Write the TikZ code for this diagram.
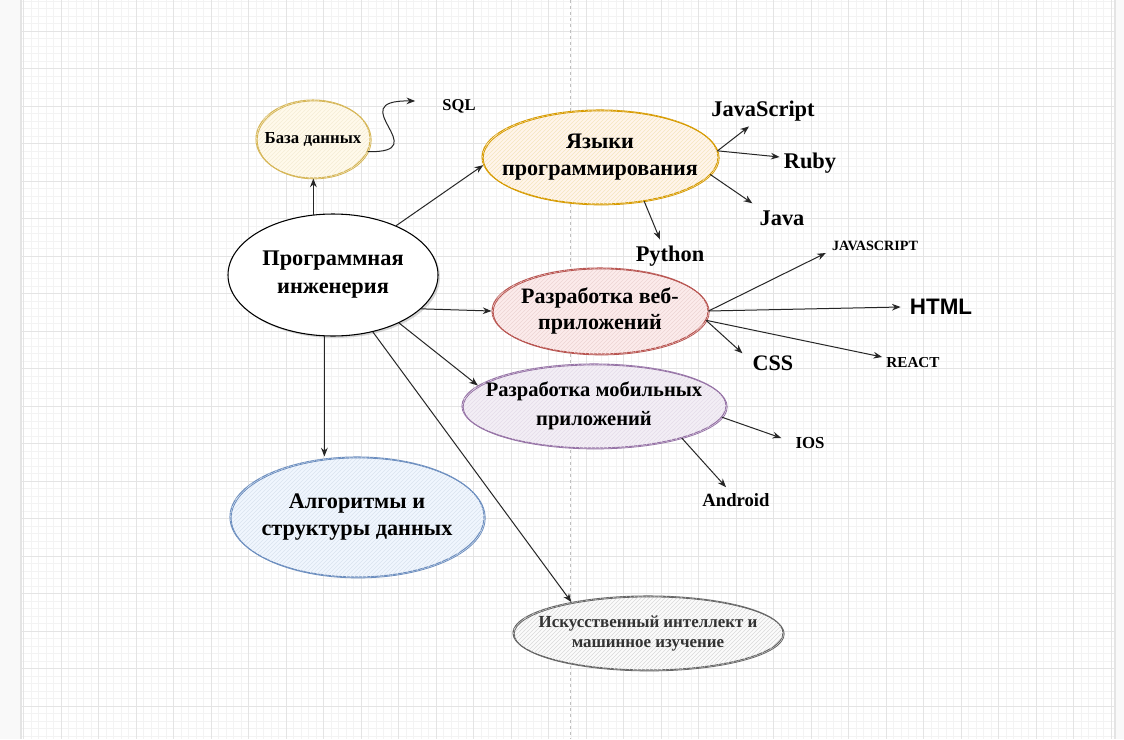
\documentclass[tikz,border=0pt]{standalone}
\usepackage{fontspec}
\setmainfont{Liberation Serif}
\newfontfamily\arialfont{Liberation Sans}
\usetikzlibrary{arrows.meta,shapes.geometric,patterns,shadows}

\definecolor{ystroke}{HTML}{D6B656}
\definecolor{yfill}{HTML}{FFF2CC}
\definecolor{ostroke}{HTML}{D79B00}
\definecolor{ofill}{HTML}{FFE6CC}
\definecolor{rstroke}{HTML}{B85450}
\definecolor{rfill}{HTML}{F8CECC}
\definecolor{pstroke}{HTML}{9673A6}
\definecolor{pfill}{HTML}{E1D5E7}
\definecolor{bstroke}{HTML}{6C8EBF}
\definecolor{bfill}{HTML}{DAE8FC}
\definecolor{gstroke}{HTML}{666666}
\definecolor{gfill}{HTML}{F5F5F5}
\definecolor{gtext}{HTML}{333333}
\definecolor{gridminor}{HTML}{F3F3F3}
\definecolor{gridmajor}{HTML}{E4E4E4}
\definecolor{gridstrip}{HTML}{F9F9F9}

\tikzset{
  blob/.style n args={4}{ellipse, draw=#1, line width=0.8pt, fill=#2!40,
    minimum width=#3*0.75pt, minimum height=#4*0.75pt, inner xsep=-30pt, inner ysep=-8pt, align=center,
    postaction={pattern=north east lines, pattern color=#1!25},
    postaction={draw=#1, line width=0.6pt, transform canvas={shift={(0.9pt,-0.7pt)}}}},
  leaf/.style={inner sep=0pt, font=\bfseries\fontsize{#1}{#1}\selectfont},
  conn/.style={black!85, line width=0.75pt, >={Stealth[length=6.5pt,width=5pt]}},
}

\begin{document}
\begin{tikzpicture}[x=0.75pt, y=-0.75pt]
  \useasboundingbox (0,0) rectangle (1124,739);
  % canvas grid
  \fill[white] (0,0) rectangle (1124,739);
  \foreach \gx in {23.5,31,...,1115} \draw[gridminor, line width=0.5pt] (\gx,0) -- (\gx,739);
  \foreach \gy in {1,8.5,...,739} \draw[gridminor, line width=0.5pt] (21,\gy) -- (1115,\gy);
  \foreach \gx in {23.5,61,...,1115} \draw[gridmajor, line width=0.6pt] (\gx,0) -- (\gx,739);
  \foreach \gy in {31,68.5,...,739} \draw[gridmajor, line width=0.6pt] (21,\gy) -- (1115,\gy);
  \fill[gridstrip] (0,0) rectangle (21,739);
  \fill[gridstrip] (1115,0) rectangle (1124,739);
  \draw[gridmajor, line width=1pt] (21,0) -- (21,739) (1115,0) -- (1115,739);
  \draw[black!25, line width=0.6pt, dash pattern=on 2.5pt off 2pt] (570,0) -- (570,739);

  % topics
  \node[ellipse, draw, line width=0.8pt, fill=white, minimum width=210*0.75pt, minimum height=122*0.75pt,
    inner xsep=-10pt, inner ysep=-4pt, align=center, drop shadow={shadow xshift=1.5pt, shadow yshift=-1.5pt, opacity=0.3},
    font=\bfseries\fontsize{16.75}{21}\selectfont] (pi) at (333,275) {Программная\\инженерия};
  \node[blob={ystroke}{yfill}{114}{78}, font=\bfseries\fontsize{12.6}{15}\selectfont] (db) at (313,139) {База данных};
  \node[blob={ostroke}{ofill}{236}{94}, font=\bfseries\fontsize{16.6}{20}\selectfont] (lang) at (600,157) {Языки\\программирования};
  \node[blob={rstroke}{rfill}{216}{86}, font=\bfseries\fontsize{16.5}{20}\selectfont] (web) at (600,311) {Разработка веб-\\приложений};
  \node[blob={pstroke}{pfill}{264}{84}, font=\bfseries\fontsize{15.4}{21.5}\selectfont] (mob) at (594,406) {Разработка мобильных\\приложений};
  \node[blob={bstroke}{bfill}{254}{120}, font=\bfseries\fontsize{16.7}{20}\selectfont] (alg) at (357,517) {Алгоритмы и\\структуры данных};
  \node[blob={gstroke}{gfill}{270}{74}, text=gtext, font=\bfseries\fontsize{12.7}{15}\selectfont] (ai) at (648,633) {Искусственный интеллект и\\машинное изучение};

  % leaves
  \node[leaf=12.4] (sql) at (459,106) {SQL};
  \node[leaf=16.8] (js) at (763,111) {JavaScript};
  \node[leaf=16.8] (ruby) at (810,163) {Ruby};
  \node[leaf=16.8] (java) at (782,218) {Java};
  \node[leaf=16.8] (py) at (670,256) {Python};
  \node[leaf=10.6] (jsu) at (875,246) {JAVASCRIPT};
  \node[inner sep=0pt, font=\arialfont\bfseries\fontsize{16.8}{16.8}\selectfont] (html) at (941,307) {HTML};
  \node[leaf=16.6] (css) at (773,363) {CSS};
  \node[leaf=11.4] (react) at (913,363) {REACT};
  \node[leaf=12.6] (ios) at (810,443) {IOS};
  \node[leaf=14] (andr) at (736,500) {Android};
  %
  \path[->, conn]
    (pi.108) edge (pi.108 |- db.south)
    (pi.38) edge (lang.184)
    (pi.-21) edge (web.180)
    (pi.-36) edge (mob.170)
    (pi.262) edge (pi.262 |- alg.north)
    (pi.-55) edge (ai.158)
    (lang.3) edge ([shift={(-14,5)}]js.south)
    (lang.3) edge ([shift={(-4,-6)}]ruby.west)
    (lang.-9) edge ([shift={(-7,-7)}]java.north west)
    (lang.-45) edge ([shift={(-10,-6)}]py.north)
    (web.east) edge ([shift={(-6,7)}]jsu.west)
    (web.east) edge ([shift={(-9,0)}]html.west)
    (web.-5) edge ([shift={(-10,-2)}]css.north west)
    (web.-5) edge ([shift={(-4,-6)}]react.west)
    (mob.-5) edge ([shift={(-14,-5)}]ios.west)
    (mob.-20) edge ([shift={(-10,-6)}]andr.north);
  \draw[->, conn] (db.-13) .. controls +(70,2) and +(-76,-1) .. ([shift={(-27,-5)}]sql.west);
\end{tikzpicture}
\end{document}
